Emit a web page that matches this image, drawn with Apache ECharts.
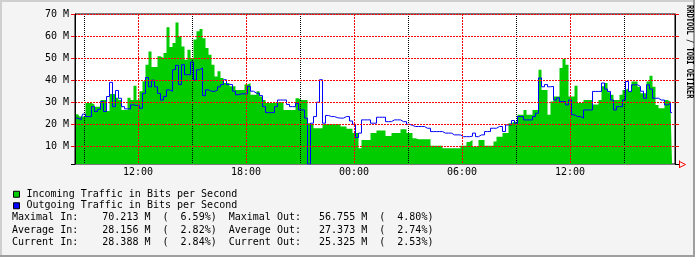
<!DOCTYPE html>
<html><head><meta charset="utf-8">
<script src="https://cdn.jsdelivr.net/npm/echarts@6/dist/echarts.min.js"></script>
<style>html,body{margin:0;padding:0;background:#F4F4F4}#c{width:695px;height:257px}</style>
</head><body><div id="c"></div>
<script>
// ---- data ----
const startHour = 8.5;          // 08:30 on day 1
const stepHours = 10 / 60;      // one sample every 10 minutes
const incoming = [
  24.6, 24.6, 23.5, 23.5, 29.6, 29.6, 29, 28, 28, 31,
  31, 26, 33.7, 33.7, 32, 31, 26.5, 26.5, 32, 31,
  37.5, 31, 35, 39.5, 47, 53, 46, 46, 50.8, 50,
  52.3, 64, 55, 56.8, 66.2, 59.9, 55.3, 49.3, 53.8, 50,
  58.4, 62.2, 63.2, 59, 54.6, 51.5, 47, 41.7, 44, 41,
  38.7, 38.7, 37.2, 37.2, 35.6, 35.6, 35.6, 38, 38.7, 33.4,
  33.4, 35, 32.6, 31, 29.6, 29.6, 29.6, 30, 30, 30,
  26.5, 26.5, 26.5, 26.5, 31.8, 31, 31, 31, 20.5, 19.7,
  18.2, 18.2, 18.2, 20, 20, 20, 20, 20, 20, 19,
  19, 18, 18, 16, 16, 9.1, 12.9, 12.9, 12.9, 16,
  16, 17.2, 17.2, 17.2, 14.7, 14.7, 16, 16, 16, 17.8,
  17.8, 16, 16, 13.7, 13.2, 13.2, 13.2, 13.2, 13.2, 10.3,
  10.3, 10.3, 10.3, 9.1, 9.1, 9.1, 9.1, 9.1, 9.1, 10.3,
  10.3, 12, 12.9, 9.9, 9.9, 12.9, 12.9, 10.3, 10.3, 10.3,
  12.2, 14.4, 14.4, 16, 16, 20.5, 21.2, 21.2, 24.3, 24.3,
  26.5, 24.3, 24.3, 26.5, 26.5, 44.7, 35.6, 35.6, 24.3, 30.3,
  32.6, 32.6, 45.5, 49.6, 47, 32.6, 32.6, 37.5, 29.6, 29.6,
  31, 31, 31, 29, 29, 31, 37.2, 38.7, 34.5, 33.4,
  31, 31, 33.4, 35.6, 36.4, 34.9, 39.4, 39.4, 37, 34.1,
  34.1, 39.4, 42, 37, 28.8, 27.3, 27.3, 31, 30.3, 28.4
];
const outgoing = [
  22.8, 22.8, 22, 24.6, 23.5, 23.5, 28, 25.8, 26.8, 30.3,
  25.8, 32.6, 39, 28, 35.3, 31.8, 28, 27, 27, 28.8,
  28.5, 28.5, 27.3, 34, 41.2, 37, 40, 37, 34, 31,
  32.6, 35.6, 35, 44.7, 46.7, 38, 47, 42.5, 42.5, 48.2,
  40, 44.7, 45.5, 33, 35.6, 35, 34.9, 35.5, 37, 38,
  40.2, 38, 38, 35, 33.4, 33.8, 33.8, 33.8, 37.2, 35,
  34.1, 34.1, 33, 28, 25.3, 25.3, 25.3, 28, 31, 31,
  31, 29, 28, 28, 29.5, 26.5, 26.5, 22.8, 2, 20.5,
  23.5, 30, 40.2, 20.5, 24, 23.5, 23.5, 23, 22.8, 22.8,
  23.5, 23.5, 21.5, 20, 14, 16, 22, 22, 22, 20.5,
  20.5, 23.2, 23.2, 23.2, 21.2, 21.2, 22, 22, 22, 21.2,
  21.2, 20, 19.5, 19, 19, 19, 19, 18.2, 18.2, 16.7,
  16.7, 16.7, 16.7, 16, 16, 16, 15.2, 15.2, 15.2, 14.4,
  14.4, 14.4, 14.6, 16, 14.4, 15.2, 15.2, 16.7, 16.7, 18.2,
  18.2, 19, 19, 16.7, 19.7, 19.7, 21.7, 20.5, 23.5, 23.5,
  22, 22, 22, 23.5, 25, 41, 37, 38, 37, 37.2,
  31, 32, 30.3, 30.3, 28.8, 31, 24.3, 23.5, 23.5, 22.8,
  26.5, 26.5, 26.5, 34.9, 34.9, 34.9, 38.7, 36, 34.9, 31,
  26.5, 28, 28, 31, 39.4, 34.9, 37.9, 37.9, 37.2, 35,
  31.8, 37.9, 36, 31.8, 31.8, 31, 31, 28.8, 29.5, 25.3
];
const yMin = 2, yMax = 70;
const yTickValues = [10, 20, 30, 40, 50, 60, 70];
const xMin = 8.5, xMax = 8.5 + 600 / 18;
const xMajorHours = [12, 18, 24, 30, 36];
const xMinorHours = [9, 15, 21, 27, 33, 39];
const xLabelTexts = ['12:00', '18:00', '00:00', '06:00', '12:00'];
const seriesNames = ['Incoming Traffic in Bits per Second', 'Outgoing Traffic in Bits per Second'];
const statLines = [
  'Maximal In:    70.213 M  (  6.59%)  Maximal Out:   56.755 M  (  4.80%)',
  'Average In:    28.156 M  (  2.82%)  Average Out:   27.373 M  (  2.74%)',
  'Current In:    28.388 M  (  2.84%)  Current Out:   25.325 M  (  2.53%)'
];
const watermark = 'RRDTOOL / TOBI OETIKER';

// ---- chart ----
const FONT = 'DejaVu Sans Mono';
const chart = echarts.init(document.getElementById('c'), null, {renderer: 'canvas'});
const toPairs = arr => arr.map((v, i) => [startHour + i * stepHours, v]);

const statY = [217.5, 230, 242.5];
const graphic = [
  {type: 'rect', shape: {x: 0, y: 0, width: 695, height: 2}, style: {fill: '#CFCFCF'}, silent: true},
  {type: 'rect', shape: {x: 0, y: 0, width: 2, height: 257}, style: {fill: '#CFCFCF'}, silent: true},
  {type: 'rect', shape: {x: 693, y: 0, width: 2, height: 257}, style: {fill: '#9E9E9E'}, silent: true},
  {type: 'rect', shape: {x: 0, y: 255, width: 695, height: 2}, style: {fill: '#9E9E9E'}, silent: true},
  {type: 'polyline', shape: {points: [[71, 164.5], [75, 164.5]]}, style: {stroke: '#000', lineWidth: 1}, silent: true},
  {type: 'polyline', shape: {points: [[675, 164.5], [680, 164.5]]}, style: {stroke: '#000', lineWidth: 1}, silent: true},
  {type: 'polyline', shape: {points: [[679.5, 160.5], [679.5, 168]]}, style: {stroke: '#FF0000', lineWidth: 1}, silent: true},
  {type: 'polygon', shape: {points: [[679.5, 161.5], [685.5, 164.5], [679.5, 167.5]]}, style: {stroke: '#FF0000', fill: 'none', lineWidth: 1}, silent: true},
  {type: 'text', x: 689.5, y: 5, rotation: -Math.PI / 2, scaleX: 0.744,
   style: {text: watermark, x: 0, y: 0, fontFamily: FONT, fontSize: 9.5, fontWeight: 'bold', fill: '#000', align: 'left', verticalAlign: 'middle'}, silent: true}
];
statLines.forEach((s, i) => graphic.push({
  type: 'text', x: 12, y: statY[i],
  style: {text: s, fontFamily: FONT, fontSize: 10, fill: '#000', align: 'left', verticalAlign: 'middle'}, silent: true
}));

const option = {
  animation: false,
  backgroundColor: '#F4F4F4',
  grid: {left: 75, right: 20, top: 14, bottom: 93, show: true, backgroundColor: '#FFFFFF', borderColor: '#000', borderWidth: 1, containLabel: false},
  legend: {
    orient: 'vertical', left: 13, top: 188.5, itemWidth: 6, itemHeight: 6, itemGap: 0, padding: 0,
    icon: 'rect', selectedMode: false,
    itemStyle: {borderColor: '#000', borderWidth: 1},
    textStyle: {fontFamily: FONT, fontSize: 10, color: '#000', lineHeight: 11.5, padding: [0, 0, 0, 2]},
    data: seriesNames
  },
  xAxis: [{
    type: 'value', min: xMin, max: xMax, z: 10, position: 'bottom',
    axisLine: {show: false},
    axisTick: {show: false, customValues: xMajorHours},
    axisLabel: {customValues: xMajorHours, formatter: v => xLabelTexts[xMajorHours.indexOf(v)], margin: 3,
                fontFamily: FONT, fontSize: 10, color: '#000'},
    splitLine: {show: true, lineStyle: {color: '#FF0000', width: 1, type: [2, 1]}}
  }, {
    type: 'value', min: xMin, max: xMax, z: 9, position: 'top',
    axisLine: {show: false},
    axisTick: {show: false, customValues: xMinorHours},
    axisLabel: {show: false},
    splitLine: {show: true, lineStyle: {color: '#000000', width: 1, type: [1, 1]}}
  }],
  yAxis: [{
    type: 'value', min: yMin, max: yMax, position: 'left', z: 10,
    axisLine: {show: true, lineStyle: {color: '#000', width: 1}},
    axisTick: {show: true, length: 4, customValues: yTickValues, lineStyle: {color: '#FF0000'}},
    axisLabel: {customValues: yTickValues, formatter: v => v + ' M', margin: 6, fontFamily: FONT, fontSize: 10, color: '#000'},
    splitLine: {show: true, lineStyle: {color: '#FF0000', width: 1, type: [2, 1]}}
  }, {
    type: 'value', min: yMin, max: yMax, position: 'right', z: 10,
    axisLine: {show: true, lineStyle: {color: '#000', width: 1}},
    axisTick: {show: true, length: 4, customValues: yTickValues, lineStyle: {color: '#FF0000'}},
    axisLabel: {show: false},
    splitLine: {show: false}
  }],
  series: [{
    name: seriesNames[0], type: 'line', step: 'middle', symbol: 'none', xAxisIndex: 0, yAxisIndex: 0,
    data: toPairs(incoming),
    itemStyle: {color: '#00CC00'},
    lineStyle: {width: 0, color: '#00CC00'},
    areaStyle: {color: '#00CC00', opacity: 1},
    z: 2
  }, {
    name: seriesNames[1], type: 'line', step: 'middle', symbol: 'none', xAxisIndex: 0, yAxisIndex: 0,
    data: toPairs(outgoing),
    itemStyle: {color: '#0000FF'},
    lineStyle: {width: 1, color: '#0000FF'},
    z: 3
  }],
  graphic: graphic
};
chart.setOption(option);
</script></body></html>
